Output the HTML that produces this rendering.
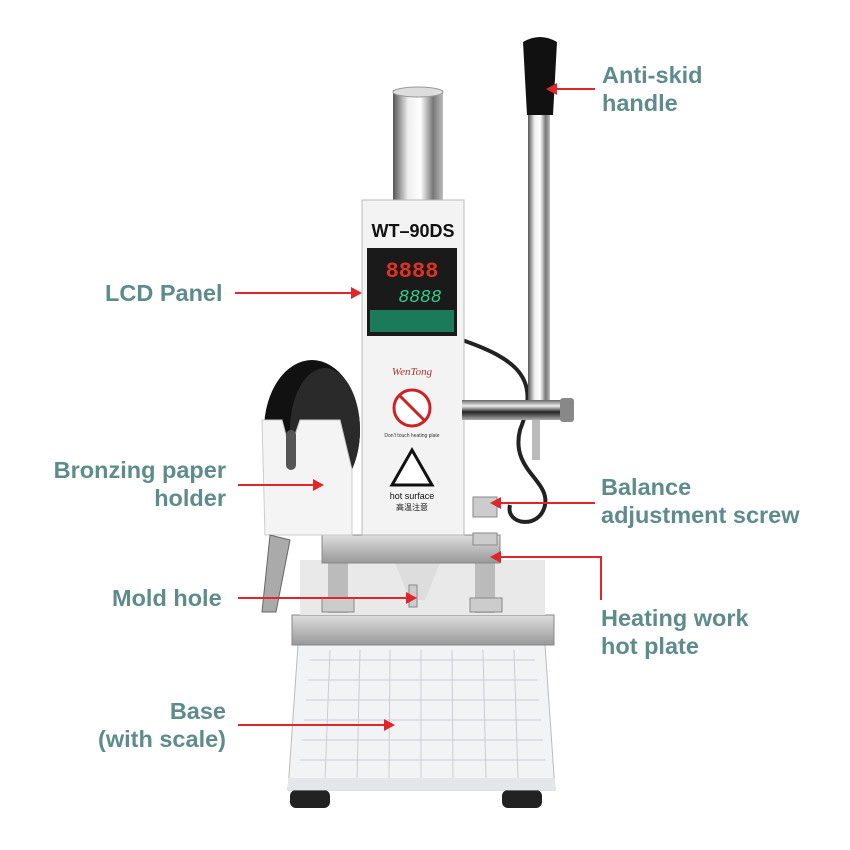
<!DOCTYPE html>
<html><head><meta charset="utf-8"><style>
body{margin:0;background:#fff;width:850px;height:850px;overflow:hidden;position:relative;font-family:"Liberation Sans","Noto Sans CJK SC",sans-serif}
.l{position:absolute;color:#5e8b8b;font-weight:bold;font-size:23.5px;line-height:28px;white-space:nowrap}
.a{position:absolute;height:2px;background:#e0262a}
.a.r::after{content:"";position:absolute;right:-2px;top:-5px;border-left:11px solid #e0262a;border-top:6px solid transparent;border-bottom:6px solid transparent}
.a.lt::after{content:"";position:absolute;left:-2px;top:-5px;border-right:11px solid #e0262a;border-top:6px solid transparent;border-bottom:6px solid transparent}
</style></head><body>
<svg width="850" height="850" style="position:absolute;left:0;top:0">
<defs>
<linearGradient id="ch" x1="0" x2="1"><stop offset="0" stop-color="#555"/><stop offset=".3" stop-color="#eee"/><stop offset=".55" stop-color="#fff"/><stop offset=".8" stop-color="#777"/><stop offset="1" stop-color="#bbb"/></linearGradient>
<linearGradient id="chv" x1="0" y1="0" x2="0" y2="1"><stop offset="0" stop-color="#666"/><stop offset=".3" stop-color="#eee"/><stop offset=".6" stop-color="#222"/><stop offset="1" stop-color="#aaa"/></linearGradient>
<linearGradient id="pl" x1="0" y1="0" x2="0" y2="1"><stop offset="0" stop-color="#ddd"/><stop offset="1" stop-color="#999"/></linearGradient>
</defs>
<rect x="290" y="790" width="40" height="18" rx="6" fill="#222"/>
<rect x="502" y="790" width="40" height="18" rx="6" fill="#222"/>
<path d="M298 645 L545 645 L555 790 L288 790 Z" fill="#f2f3f5" stroke="#bbb"/>
<g stroke="#c9cdd6" stroke-width="1">
<line x1="310" y1="660" x2="535" y2="660"/><line x1="308" y1="680" x2="537" y2="680"/><line x1="306" y1="700" x2="539" y2="700"/><line x1="304" y1="720" x2="541" y2="720"/><line x1="302" y1="740" x2="543" y2="740"/><line x1="300" y1="760" x2="545" y2="760"/>
<line x1="330" y1="650" x2="325" y2="780"/><line x1="360" y1="650" x2="357" y2="780"/><line x1="390" y1="650" x2="389" y2="780"/><line x1="421" y1="650" x2="421" y2="780"/><line x1="452" y1="650" x2="453" y2="780"/><line x1="483" y1="650" x2="486" y2="780"/><line x1="514" y1="650" x2="518" y2="780"/>
</g>
<rect x="288" y="778" width="267" height="12" fill="#e4e6ea"/>
<rect x="292" y="615" width="262" height="30" fill="url(#pl)" stroke="#888"/>
<rect x="300" y="560" width="245" height="55" fill="#e9e9e9"/>
<rect x="328" y="563" width="20" height="50" fill="#bbb"/><rect x="475" y="563" width="20" height="50" fill="#bbb"/>
<rect x="322" y="598" width="32" height="14" fill="#ccc" stroke="#888"/><rect x="470" y="598" width="32" height="14" fill="#ccc" stroke="#888"/>
<path d="M395 563 L440 563 L425 600 L410 600 Z" fill="#ddd"/>
<rect x="409" y="585" width="8" height="22" fill="#ccc" stroke="#888"/>
<rect x="322" y="535" width="178" height="28" fill="url(#pl)" stroke="#888"/>
<rect x="473" y="497" width="24" height="20" fill="#ccc" stroke="#888"/>
<rect x="473" y="533" width="24" height="12" fill="#ccc" stroke="#888"/>
<path d="M462 340 C520 360 540 380 520 430 C510 470 550 480 545 505 C540 530 505 525 510 505" fill="none" stroke="#222" stroke-width="4"/>
<ellipse cx="312" cy="430" rx="48" ry="70" fill="#111"/>
<ellipse cx="325" cy="430" rx="35" ry="62" fill="#2a2a2a"/>
<path d="M262 420 L282 420 L290 450 L300 420 L340 420 L352 470 L352 535 L265 535 Z" fill="#f4f4f4" stroke="#ccc"/>
<rect x="286" y="430" width="10" height="40" rx="5" fill="#555"/>
<path d="M270 535 L262 612 L276 612 L290 540 Z" fill="#aaa" stroke="#666"/>
<rect x="393" y="90" width="50" height="115" fill="url(#ch)"/>
<ellipse cx="418" cy="92" rx="25" ry="5" fill="#ddd" stroke="#999"/>
<rect x="362" y="200" width="102" height="335" fill="#f3f3f3" stroke="#bbb"/>
<text x="413" y="237" text-anchor="middle" font-family="Liberation Sans" font-weight="bold" font-size="18" fill="#111">WT–90DS</text>
<rect x="367" y="248" width="90" height="88" fill="#1a1a1a"/>
<text x="412" y="277" text-anchor="middle" font-family="Liberation Mono" font-size="22" fill="#d32" font-weight="bold">8888</text>
<text x="420" y="302" text-anchor="middle" font-family="Liberation Mono" font-size="18" fill="#3c8" font-style="italic">8888</text>
<rect x="370" y="310" width="84" height="22" fill="#1a7a5a"/>
<text x="412" y="375" text-anchor="middle" font-family="Liberation Serif" font-size="11" fill="#a33" font-style="italic">WenTong</text>
<circle cx="412" cy="408" r="18" fill="#fff" stroke="#c22" stroke-width="3"/><line x1="400" y1="396" x2="424" y2="420" stroke="#c22" stroke-width="3"/>
<text x="412" y="437" text-anchor="middle" font-size="5" fill="#333">Don't touch heating plate</text>
<path d="M412 450 L432 485 L392 485 Z" fill="#fff" stroke="#111" stroke-width="3"/>
<text x="412" y="499" text-anchor="middle" font-size="9" fill="#111">hot surface</text>
<text x="412" y="510" text-anchor="middle" font-size="8" fill="#111" font-family="Noto Sans CJK SC">高温注意</text>
<rect x="528" y="110" width="22" height="295" fill="url(#ch)"/>
<path d="M523 42 Q540 32 557 42 L553 115 L527 115 Z" fill="#111"/>
<rect x="462" y="400" width="108" height="20" fill="url(#chv)"/>
<rect x="560" y="398" width="14" height="24" rx="3" fill="#888"/>
<rect x="532" y="420" width="8" height="40" fill="#bbb"/>
</svg>
<div class="l" style="left:602px;top:61px">Anti-skid<br>handle</div>
<div class="a lt" style="left:548px;top:88px;width:47px"></div>
<div class="l" style="left:105px;top:279px">LCD Panel</div>
<div class="a r" style="left:235px;top:292px;width:125px"></div>
<div class="l" style="left:10px;top:456px;width:216px;text-align:right">Bronzing paper<br>holder</div>
<div class="a r" style="left:238px;top:484px;width:84px"></div>
<div class="l" style="left:601px;top:473px">Balance<br>adjustment screw</div>
<div class="a lt" style="left:492px;top:502px;width:103px"></div>
<div class="l" style="left:112px;top:584px">Mold hole</div>
<div class="a r" style="left:238px;top:597px;width:177px"></div>
<div class="a lt" style="left:492px;top:556px;width:110px"></div>
<div style="position:absolute;left:600px;top:556px;width:2px;height:44px;background:#e0262a"></div>
<div class="l" style="left:601px;top:604px">Heating work<br>hot plate</div>
<div class="l" style="left:40px;top:697px;width:186px;text-align:right">Base<br>(with scale)</div>
<div class="a r" style="left:238px;top:724px;width:155px"></div>
</body></html>
